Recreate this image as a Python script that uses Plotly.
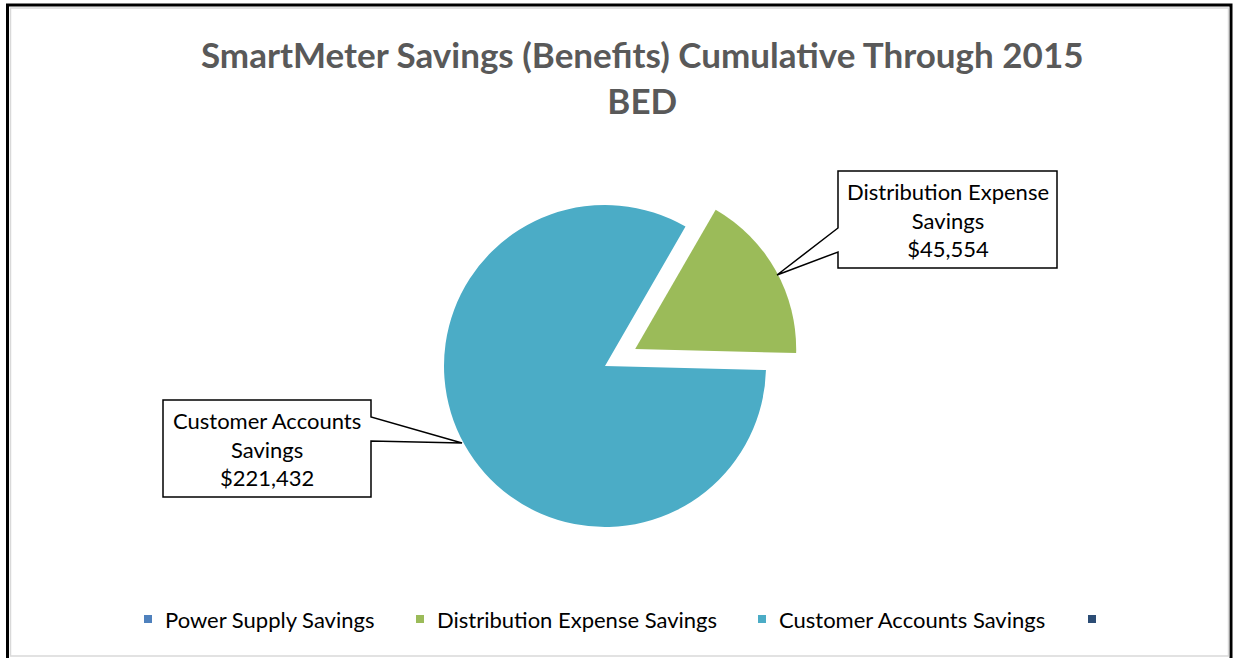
import plotly.graph_objects as go

# ---- data ----
labels = ["Power Supply Savings", "Distribution Expense Savings", "Customer Accounts Savings", " "]
values = [0, 45554, 221432, 0]
colors = ["#4F81BD", "#9BBB59", "#4BACC6", "#2C4D75"]
pulls = [0, 0.215, 0, 0]
callout_names = ["Distribution Expense<br>Savings", "Customer Accounts<br>Savings"]
callout_idx = [1, 2]
title_text = "SmartMeter Savings (Benefits) Cumulative Through 2015<br>BED"

W, H = 1233, 658
def fx(x):
    return x / W
def fy(y):
    return 1 - y / H

FONT = "Lato"

# pie geometry (pixels)
cx, cy, r = 605, 366, 161
half = r * (1 + max(pulls))

fig = go.Figure()
fig.add_trace(go.Pie(
    labels=labels, values=values, sort=False, direction="clockwise", rotation=30,
    pull=pulls, marker=dict(colors=colors, line=dict(width=0)),
    textinfo="none", hoverinfo="label+value",
    domain=dict(x=[fx(cx - half), fx(cx + half)], y=[fy(cy + half), fy(cy - half)]),
    showlegend=False,
))

def path(pts):
    return "M " + " L ".join(f"{fx(x):.5f},{fy(y):.5f}" for x, y in pts) + " Z"

shapes = [
    # outer frame
    dict(type="rect", xref="paper", yref="paper", x0=fx(7.5), x1=fx(1231), y0=fy(5), y1=fy(660),
         line=dict(color="#000000", width=3), fillcolor="rgba(0,0,0,0)", layer="above"),
    dict(type="rect", xref="paper", yref="paper", x0=fx(10.5), x1=fx(1228.5), y0=fy(8), y1=fy(656),
         line=dict(color="#D9D9D9", width=1.5), fillcolor="rgba(0,0,0,0)", layer="above"),
    # callout boxes
    dict(type="path", xref="paper", yref="paper", fillcolor="white", line=dict(color="black", width=1.5),
         path=path([(838, 171), (1057, 171), (1057, 268), (838, 268), (838, 252), (777, 275), (838, 228)])),
    dict(type="path", xref="paper", yref="paper", fillcolor="white", line=dict(color="black", width=1.5),
         path=path([(163, 400), (371, 400), (371, 417), (462, 443), (371, 441), (371, 497), (163, 497)])),
]

annotations = [
    dict(xref="paper", yref="paper", x=fx(642.5), y=fy(77), xanchor="center", yanchor="middle",
         text=title_text, showarrow=False, align="center",
         font=dict(family=FONT, size=35, color="#595959", weight="bold")),
]
centers = [(947.5, 219.5), (267, 449)]
for name, i, (ax_, ay_) in zip(callout_names, callout_idx, centers):
    annotations.append(dict(
        xref="paper", yref="paper", x=fx(ax_), y=fy(ay_), xanchor="center", yanchor="middle",
        text=f"{name}<br>${values[i]:,.0f}", showarrow=False, align="center",
        font=dict(family=FONT, size=22, color="#000000"),
    ))

# legend (Excel style: small square + text), built from labels / colors
legend_marker_x = [148, 420, 762, 1092]
legend_y = 619
for lab, col, mx in zip(labels, colors, legend_marker_x):
    shapes.append(dict(type="rect", xref="paper", yref="paper",
                       x0=fx(mx - 4), x1=fx(mx + 4), y0=fy(legend_y + 4), y1=fy(legend_y - 4),
                       fillcolor=col, line=dict(width=0)))
    if lab.strip():
        annotations.append(dict(xref="paper", yref="paper", x=fx(mx + 15), y=fy(legend_y),
                                xanchor="left", yanchor="middle", text=lab, showarrow=False,
                                font=dict(family=FONT, size=22, color="#000000")))

fig.update_layout(
    width=W, height=H, margin=dict(l=0, r=0, t=0, b=0),
    paper_bgcolor="white", plot_bgcolor="white",
    showlegend=False,
    shapes=shapes, annotations=annotations,
)

fig.write_html("out.html", config={"displayModeBar": False},
               post_script="document.body.style.margin='0px';")
